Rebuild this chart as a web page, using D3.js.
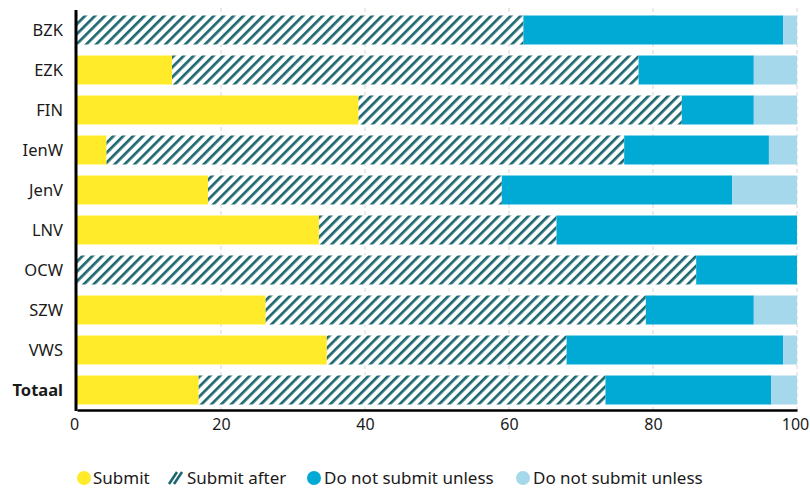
<!DOCTYPE html>
<html>
<head>
<meta charset="utf-8">
<script src="https://cdn.jsdelivr.net/npm/d3@7"></script>
<style>
  html, body { margin: 0; padding: 0; background: #fff; }
  svg { display: block; font-family: "Noto Sans", "DejaVu Sans", sans-serif; }
</style>
</head>
<body>
<svg id="chart" width="810" height="488"></svg>
<script>
const categories = ["BZK", "EZK", "FIN", "IenW", "JenV", "LNV", "OCW", "SZW", "VWS", "Totaal"];
const seriesNames = ["Submit", "Submit after", "Do not submit unless", "Do not submit unless"];
const submit       = [0,    13.2, 39.1, 4.1,  18.2, 33.6, 0,  26.2, 34.7, 16.9];
const submitAfter  = [62.0, 64.8, 44.9, 71.9, 40.8, 33.0, 86.0, 52.8, 33.3, 56.5];
const doNotSubmit1 = [36.1, 16.0, 10.0, 20.1, 32.0, 33.4, 14.0, 15.0, 30.1, 23.0];
const doNotSubmit2 = [1.9,  6.0,  6.0,  3.9,  9.0,  0,    0,  6.0,  1.9,  3.6];
const xTicks = [0, 20, 40, 60, 80, 100];
const colors = ["#ffeb2a", "url(#hatch)", "#00aad4", "#a6d8eb"];

const svg = d3.select("#chart");
const defs = svg.append("defs");
const pat = defs.append("pattern")
  .attr("id", "hatch").attr("patternUnits", "userSpaceOnUse")
  .attr("width", 7).attr("height", 7)
  .attr("patternTransform", "rotate(45)");
pat.append("rect").attr("width", 7).attr("height", 7).attr("fill", "#fff");
pat.append("rect").attr("x", 0).attr("y", 0).attr("width", 2.7).attr("height", 7).attr("fill", "#1d6870");

const x = d3.scaleLinear().domain([0, 100]).range([77, 797]);
const y = d3.scaleBand().domain(categories).range([10, 410]).paddingInner(0.275).paddingOuter(0.1375);

// gridlines
svg.append("g").selectAll("line").data(xTicks.filter(d => d > 0)).join("line")
  .attr("x1", d => x(d)).attr("x2", d => x(d))
  .attr("y1", 8).attr("y2", 410)
  .attr("stroke", "#d4d4d4").attr("stroke-width", 1).attr("stroke-dasharray", "4,3");

const seriesVals = [submit, submitAfter, doNotSubmit1, doNotSubmit2];
const rows = categories.map((c, i) => {
  let acc = 0;
  return seriesVals.map((s, k) => { const r = {cat: c, k, x0: acc, x1: acc + s[i]}; acc += s[i]; return r; });
});
svg.append("g").selectAll("g").data(rows).join("g")
  .selectAll("rect").data(d => d.filter(s => s.x1 > s.x0)).join("rect")
  .attr("x", d => x(d.x0)).attr("width", d => x(d.x1) - x(d.x0))
  .attr("y", d => y(d.cat)).attr("height", y.bandwidth())
  .attr("fill", d => colors[d.k]);

// category labels
svg.append("g").selectAll("text").data(categories).join("text")
  .attr("x", 63).attr("y", d => y(d) + y.bandwidth() / 2)
  .attr("dy", "0.35em").attr("text-anchor", "end")
  .attr("font-size", 16.5).attr("fill", "#1a1a1a")
  .attr("font-weight", d => d === "Totaal" ? "bold" : "normal")
  .text(d => d);

// axes lines
svg.append("line").attr("x1", 76).attr("x2", 76).attr("y1", 10).attr("y2", 411)
  .attr("stroke", "#000").attr("stroke-width", 3);
const xAxis = svg.append("g").attr("transform", "translate(0,410)")
  .call(d3.axisBottom(x).tickValues(xTicks).tickSize(0).tickPadding(9));
xAxis.select(".domain").attr("stroke", "#000").attr("stroke-width", 2.5);
xAxis.selectAll("text").attr("font-size", 16).attr("fill", "#1a1a1a")
  .attr("font-family", "\"Noto Sans\", sans-serif")
  .attr("dx", d => d === 100 ? -2 : (d === 0 ? -3 : 0));

// legend
const legend = [
  {label: seriesNames[0], fill: colors[0], cx: 84, tx: 93},
  {label: seriesNames[1], fill: null, cx: 176, tx: 187},
  {label: seriesNames[2], fill: colors[2], cx: 314, tx: 324},
  {label: seriesNames[3], fill: colors[3], cx: 523, tx: 533}
];
const lg = svg.append("g");
legend.forEach(l => {
  if (l.fill) {
    lg.append("circle").attr("cx", l.cx).attr("cy", 478).attr("r", 7).attr("fill", l.fill);
  } else {
    [-4, 1].forEach(o => {
      lg.append("line").attr("x1", l.cx + o - 3).attr("y1", 484).attr("x2", l.cx + o + 5).attr("y2", 472)
        .attr("stroke", "#1d6870").attr("stroke-width", 2.6);
    });
  }
  lg.append("text").attr("x", l.tx).attr("y", 478).attr("dy", "0.35em")
    .attr("font-size", 17).attr("fill", "#1a1a1a").text(l.label);
});
</script>
</body>
</html>
